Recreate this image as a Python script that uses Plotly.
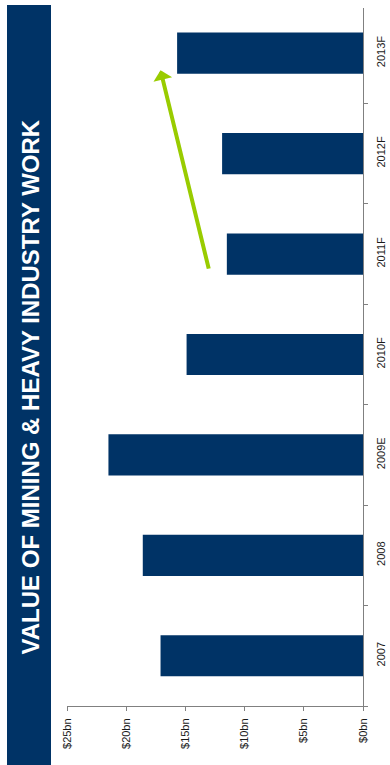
import plotly.graph_objects as go

# Value of mining & heavy industry work, by year ($bn)
categories = ["2007", "2008", "2009E", "2010F", "2011F", "2012F", "2013F"]
values = [17.1, 18.6, 21.5, 14.9, 11.5, 11.9, 15.7]

tick_values = [0, 5, 10, 15, 20, 25]
tick_labels = ["$0bn", "$5bn", "$10bn", "$15bn", "$20bn", "$25bn"]

title_text = "VALUE OF MINING & HEAVY INDUSTRY WORK"

# trend arrow: from (value, category index) to (value, category index)
arrow_from = (13.0, 3.84)
arrow_to = (17.1, 5.83)

NAVY = "#003366"
GREEN = "#99cc00"
AXIS = "#808080"
FONT = "Arial, Liberation Sans, sans-serif"

W, H = 390, 765
L, R, T, B = 67, 27, 8, 59
pw, ph = W - L - R, H - T - B


def px_x(p):
    return (p - L) / pw


def px_y(p):
    return (H - B - p) / ph


fig = go.Figure(
    go.Bar(
        x=values,
        y=categories,
        orientation="h",
        marker=dict(color=NAVY, line=dict(width=0)),
        width=0.41,
        hoverinfo="skip",
    )
)

fig.update_layout(
    width=W,
    height=H,
    margin=dict(l=L, r=R, t=T, b=B, pad=0),
    paper_bgcolor="white",
    plot_bgcolor="white",
    showlegend=False,
    font=dict(family=FONT, size=11, color="#1a1a1a"),
    xaxis=dict(
        range=[25, 0],
        tickmode="array",
        tickvals=tick_values,
        ticktext=tick_labels,
        tickangle=-90,
        ticks="outside",
        ticklen=4,
        tickwidth=1,
        tickcolor=AXIS,
        showline=True,
        linecolor=AXIS,
        linewidth=1,
        showgrid=False,
        zeroline=False,
        automargin=False,
        ticklabelstandoff=3,
        tickfont=dict(size=11, family=FONT, color="#1a1a1a"),
    ),
    yaxis=dict(
        type="category",
        categoryorder="array",
        categoryarray=categories,
        range=[-0.5, 6.45],
        side="right",
        tickangle=-90,
        ticks="outside",
        tickson="boundaries",
        ticklen=4,
        tickwidth=1,
        tickcolor=AXIS,
        showline=True,
        linecolor=AXIS,
        linewidth=1,
        showgrid=False,
        zeroline=False,
        automargin=False,
        ticklabelstandoff=8,
        tickfont=dict(size=11, family=FONT, color="#1a1a1a"),
    ),
    shapes=[
        dict(
            type="rect",
            xref="paper",
            yref="paper",
            x0=px_x(7),
            x1=px_x(51),
            y0=px_y(766),
            y1=px_y(5),
            fillcolor=NAVY,
            line=dict(width=0),
            layer="above",
        )
    ],
    annotations=[
        dict(
            text="<b>" + title_text.replace("&", "&amp;") + "</b>",
            xref="paper",
            yref="paper",
            x=px_x(29.5),
            y=px_y(387),
            xanchor="center",
            yanchor="middle",
            textangle=-90,
            showarrow=False,
            font=dict(family=FONT, size=24, color="white"),
        ),
        dict(
            text="",
            x=arrow_to[0],
            y=arrow_to[1],
            xref="x",
            yref="y",
            ax=arrow_from[0],
            ay=arrow_from[1],
            axref="x",
            ayref="y",
            showarrow=True,
            arrowhead=1,
            arrowsize=0.8,
            arrowwidth=4,
            arrowcolor=GREEN,
            standoff=0,
        ),
    ],
)

fig.write_html("out.html")
